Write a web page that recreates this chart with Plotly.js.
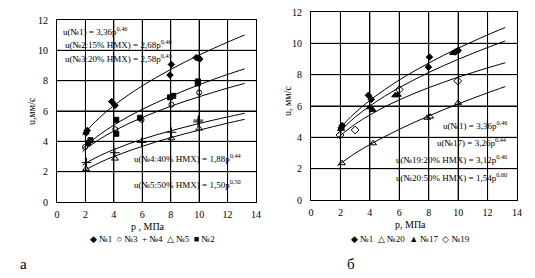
<!DOCTYPE html>
<html>
<head>
<meta charset="utf-8">
<script src="https://cdn.plot.ly/plotly-3.0.1.min.js"></script>
<style>html,body{margin:0;padding:0;background:#fff;}#chart{width:535px;height:278px;}</style>
</head>
<body>
<div id="chart"></div>
<script>
// ---------- data: left panel (а) ----------
var n1L_p = [2.05, 2.13, 3.85, 4.08, 7.95, 8.05, 9.8, 9.95, 10.05];
var n1L_u = [4.55, 4.72, 6.62, 6.37, 8.37, 9.07, 9.52, 9.47, 9.43];
var n2L_p = [2.18, 2.35, 4.17, 4.17, 5.85, 7.95, 8.18, 9.9, 9.92];
var n2L_u = [3.88, 4.07, 5.42, 4.5, 5.55, 6.9, 7.0, 7.82, 7.95];
var n3L_p = [1.97, 4.1, 5.95, 8.05, 10.0];
var n3L_u = [3.62, 4.8, 5.42, 6.42, 7.22];
var n4L_p = [2.08, 4.07, 5.95, 8.05, 9.92, 9.95];
var n4L_u = [2.6, 3.25, 3.93, 4.6, 5.28, 5.4];
var n5L_p = [2.05, 4.08, 8.05, 10.0];
var n5L_u = [2.18, 2.86, 4.2, 4.84];

// trend curves (left)
var curveP = [1.8, 2, 3, 4, 5, 6, 7, 8, 9, 10, 11, 12, 13.2];
var fit1L = [4.40, 4.62, 5.57, 6.36, 7.04, 7.66, 8.22, 8.74, 9.23, 9.69, 10.12, 10.54, 11.01];
var fit2L = [3.51, 3.69, 4.44, 5.07, 5.62, 6.11, 6.56, 6.97, 7.36, 7.73, 8.08, 8.41, 8.78];
var fit3L = [3.32, 3.48, 4.14, 4.68, 5.15, 5.57, 5.96, 6.31, 6.64, 6.94, 7.23, 7.51, 7.82];
var fit4L = [2.43, 2.55, 3.05, 3.46, 3.82, 4.14, 4.43, 4.69, 4.94, 5.18, 5.40, 5.61, 5.85];
var fit5L = [2.01, 2.12, 2.60, 3.00, 3.35, 3.67, 3.97, 4.24, 4.50, 4.74, 4.97, 5.20, 5.45];

// ---------- data: right panel (б) ----------
var n1R_p = [2.05, 2.12, 3.9, 4.1, 7.98, 8.05, 9.8, 10.0];
var n1R_u = [4.6, 4.75, 6.68, 6.42, 8.48, 9.12, 9.45, 9.55];
var n17R_p = [2.05, 4.0, 4.2, 5.72, 5.9, 9.65, 9.9];
var n17R_u = [4.55, 5.92, 5.75, 6.68, 6.72, 9.38, 9.5];
var n19R_p = [1.97, 3.0, 6.0, 9.97];
var n19R_u = [4.15, 4.47, 7.05, 7.6];
var n20R_p = [2.1, 4.22, 7.9, 8.1, 10.0];
var n20R_u = [2.35, 3.62, 5.25, 5.32, 6.2];

var fit1R = [4.40, 4.62, 5.57, 6.36, 7.04, 7.66, 8.22, 8.74, 9.23, 9.69, 10.12, 10.54, 11.01];
var fit17R = [4.22, 4.42, 5.29, 6.00, 6.62, 7.17, 7.67, 8.14, 8.57, 8.98, 9.36, 9.73, 10.15];
var fit19R = [3.95, 4.12, 4.84, 5.43, 5.94, 6.39, 6.80, 7.17, 7.51, 7.84, 8.14, 8.43, 8.76];
var fit20R = [2.19, 2.33, 2.98, 3.54, 4.04, 4.51, 4.95, 5.36, 5.76, 6.13, 6.49, 6.84, 7.24];

// axis ticks
var xTicks = [0, 2, 4, 6, 8, 10, 12, 14];
var yTicks = [0, 2, 4, 6, 8, 10, 12];

// ---------- text ----------
var eqLeft = [
  "u(№1) = 3,36p<sup>0,46</sup>",
  "u(№2:15% HMX) = 2,68p<sup>0,46</sup>",
  "u(№3:20% HMX) = 2,58p<sup>0,43</sup>",
  "u(№4:40% HMX) = 1,88p<sup>0,44</sup>",
  "u(№5:50% HMX) = 1,50p<sup>0,50</sup>"
];
var eqRight = [
  "u(№1) = 3,36p<sup>0,46</sup>",
  "u(№17) = 3,26p<sup>0,44</sup>",
  "u(№19:20% HMX) = 3,12p<sup>0,40</sup>",
  "u(№20:50% HMX) = 1,54p<sup>0,60</sup>"
];
var legLeft = "◆ №1  ○ №3  + №4  △ №5  ■ №2";
var legRight = "◆ №1  △ №20  ▲ №17  ◇ №19";
var xTitleL = "p , МПа", yTitleL = "u,мм/с";
var xTitleR = "p, МПа", yTitleR = "u, мм/с";

var W = 535, H = 278;
function px(x){ return x / W; }
function py(y){ return 1 - y / H; }
var SERIF = "Liberation Serif, Times New Roman, serif";

function curve(x, y, xa, ya){
  return {x: x, y: y, xaxis: xa, yaxis: ya, mode: 'lines', type: 'scatter',
    line: {color: '#000', width: 1, shape: 'spline'}, hoverinfo: 'skip', showlegend: false};
}
function pts(x, y, xa, ya, sym, size, name){
  return {x: x, y: y, xaxis: xa, yaxis: ya, mode: 'markers', type: 'scatter', name: name,
    marker: {symbol: sym, size: size, color: '#000',
             line: {color: '#000', width: 1}}, showlegend: false};
}

var traces = [
  curve(curveP, fit1L, 'x', 'y'),
  curve(curveP, fit2L, 'x', 'y'),
  curve(curveP, fit3L, 'x', 'y'),
  curve(curveP, fit4L, 'x', 'y'),
  curve(curveP, fit5L, 'x', 'y'),
  pts(n1L_p, n1L_u, 'x', 'y', 'diamond', 5, '№1'),
  pts(n3L_p, n3L_u, 'x', 'y', 'circle-open', 5, '№3'),
  pts(n4L_p, n4L_u, 'x', 'y', 'cross-thin-open', 7, '№4'),
  pts(n5L_p, n5L_u, 'x', 'y', 'triangle-up-open', 6, '№5'),
  pts(n2L_p, n2L_u, 'x', 'y', 'square', 5, '№2'),

  curve(curveP, fit1R, 'x2', 'y2'),
  curve(curveP, fit17R, 'x2', 'y2'),
  curve(curveP, fit19R, 'x2', 'y2'),
  curve(curveP, fit20R, 'x2', 'y2'),
  pts(n1R_p, n1R_u, 'x2', 'y2', 'diamond', 5, '№1'),
  pts(n20R_p, n20R_u, 'x2', 'y2', 'triangle-up-open', 6, '№20'),
  pts(n17R_p, n17R_u, 'x2', 'y2', 'triangle-up', 6, '№17'),
  pts(n19R_p, n19R_u, 'x2', 'y2', 'diamond-open', 6, '№19')
];

function xax(dom, anchor){
  return {domain: dom, anchor: anchor, range: [0, 14], tickmode: 'array', tickvals: xTicks,
    showgrid: true, gridcolor: '#000', gridwidth: 1, zeroline: false,
    showline: true, mirror: true, linecolor: '#000', linewidth: 1,
    ticks: 'outside', ticklen: 3, tickcolor: 'rgba(0,0,0,0)',
    tickfont: {family: SERIF, size: 10, color: '#000'}, fixedrange: true};
}
function yax(dom, anchor){
  return {domain: dom, anchor: anchor, range: [0, 12], tickmode: 'array', tickvals: yTicks,
    showgrid: true, gridcolor: '#000', gridwidth: 1, zeroline: false,
    showline: true, mirror: true, linecolor: '#000', linewidth: 1,
    ticks: 'outside', ticklen: 6, tickcolor: 'rgba(0,0,0,0)',
    tickfont: {family: SERIF, size: 10, color: '#000'}, fixedrange: true};
}

// grid lines as shapes (drawn below traces)
var shapes = [];
[['x', 'y'], ['x2', 'y2']].forEach(function(ax){
  xTicks.slice(1, -1).forEach(function(v){
    shapes.push({type: 'line', layer: 'below', xref: ax[0], yref: ax[1] + ' domain',
      x0: v, x1: v, y0: 0, y1: 1, line: {color: '#000', width: 1}});
  });
  yTicks.slice(1, -1).forEach(function(v){
    shapes.push({type: 'line', layer: 'below', xref: ax[0] + ' domain', yref: ax[1],
      x0: 0, x1: 1, y0: v, y1: v, line: {color: '#000', width: 1}});
  });
});

var ann = [];
function txt(t, x, y, xa, size, extra){
  var a = {text: t, xref: 'paper', yref: 'paper', x: px(x), y: py(y),
    xanchor: xa, yanchor: 'middle', showarrow: false,
    font: {family: SERIF, size: size, color: '#000'}};
  for (var k in (extra || {})) a[k] = extra[k];
  ann.push(a);
}
var leftPos = [[61, 31], [63, 44], [63, 58], [132, 158], [132, 184]];
eqLeft.forEach(function(t, i){ txt(t, leftPos[i][0], leftPos[i][1], 'left', 9); });
var rightPos = [[509, 125], [509, 142], [509, 159], [509, 177]];
eqRight.forEach(function(t, i){ txt(t, rightPos[i][0], rightPos[i][1], 'right', 9); });
txt(legLeft, 152, 239, 'center', 9);
txt(legRight, 410, 239, 'center', 9);
txt('а', 24, 264, 'center', 15);
txt('б', 351, 264, 'center', 15);
txt(xTitleL, 148, 226, 'center', 10);
txt(xTitleR, 410, 224, 'center', 10);
txt(yTitleL, 32, 111, 'center', 10, {textangle: -90});
txt(yTitleR, 288, 101, 'center', 10, {textangle: -90});

var layout = {
  width: W, height: H,
  margin: {l: 0, r: 0, t: 0, b: 0},
  paper_bgcolor: '#fff', plot_bgcolor: '#fff',
  showlegend: false,
  xaxis: xax([57 / W, 256 / W], 'y'),
  yaxis: yax([(H - 202) / H, (H - 20) / H], 'x'),
  xaxis2: xax([311 / W, 517 / W], 'y2'),
  yaxis2: yax([(H - 200) / H, (H - 12) / H], 'x2'),
  shapes: shapes,
  annotations: ann
};

Plotly.newPlot('chart', traces, layout, {displayModeBar: false, staticPlot: true});
</script>
</body>
</html>
